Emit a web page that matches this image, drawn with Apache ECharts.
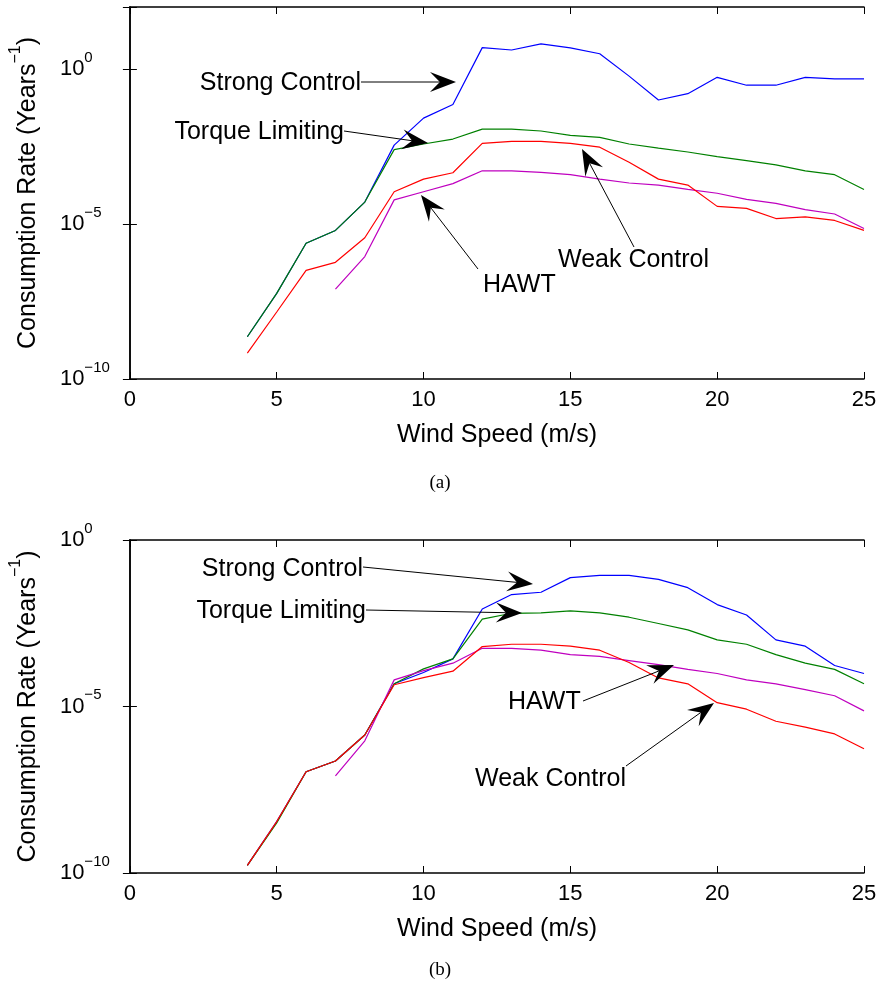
<!DOCTYPE html>
<html>
<head>
<meta charset="utf-8">
<script src="https://cdn.jsdelivr.net/npm/echarts@6/dist/echarts.min.js"></script>
<style>
  html, body { margin: 0; padding: 0; background: #fff; }
  #chart { width: 883px; height: 991px; }
</style>
</head>
<body>
<div id="chart"></div>
<script>
// Wind speeds (m/s) at which the consumption rate was evaluated
const windSpeed = [4, 5, 6, 7, 8, 9, 10, 11, 12, 13, 14, 15, 16, 17, 18, 19, 20, 21, 22, 23, 24, 25];

// Panel (a): consumption rate (1/years)
const strongA = [2.3e-9, 5.8e-8, 2.4e-6, 6.2e-6, 5.1e-5, 3.5e-3, 2.6e-2, 7.2e-2, 4.9, 4.1, 6.5, 4.8, 3.1, 0.59, 0.10, 0.16, 0.54, 0.30, 0.30, 0.54, 0.48, 0.48];
const torqueA = [2.3e-9, 5.8e-8, 2.4e-6, 6.2e-6, 5.1e-5, 2.5e-3, 3.8e-3, 5.5e-3, 1.15e-2, 1.15e-2, 1.0e-2, 7.2e-3, 6.2e-3, 3.8e-3, 2.8e-3, 2.1e-3, 1.5e-3, 1.1e-3, 8.1e-4, 5.2e-4, 3.9e-4, 1.3e-4];
const weakA   = [6.8e-10, 1.45e-8, 3.2e-7, 5.8e-7, 3.6e-6, 1.1e-4, 2.8e-4, 4.5e-4, 4.0e-3, 4.6e-3, 4.6e-3, 4.0e-3, 3.0e-3, 9.8e-4, 2.8e-4, 1.8e-4, 3.7e-5, 3.2e-5, 1.5e-5, 1.7e-5, 1.3e-5, 6.2e-6];
const hawtA   = [null, null, null, 7.9e-8, 8.9e-7, 6.0e-5, 1.1e-4, 2.0e-4, 5.2e-4, 5.2e-4, 4.6e-4, 3.9e-4, 2.8e-4, 2.1e-4, 1.8e-4, 1.3e-4, 9.8e-5, 6.2e-5, 4.6e-5, 2.9e-5, 2.1e-5, 7.2e-6];

// Panel (b): consumption rate (1/years)
const strongB = [1.7e-10, 3.5e-9, 1.1e-7, 2.3e-7, 1.4e-6, 4.8e-5, 1.05e-4, 2.7e-4, 8.5e-3, 2.3e-2, 2.7e-2, 7.4e-2, 8.7e-2, 8.7e-2, 6.6e-2, 3.7e-2, 1.15e-2, 5.6e-3, 1.0e-3, 6.5e-4, 1.7e-4, 9.8e-5];
const torqueB = [1.7e-10, 3.2e-9, 1.1e-7, 2.3e-7, 1.4e-6, 4.8e-5, 1.35e-4, 2.7e-4, 4.2e-3, 6.3e-3, 6.5e-3, 7.4e-3, 6.5e-3, 4.8e-3, 3.1e-3, 2.0e-3, 1.0e-3, 7.4e-4, 3.6e-4, 2.0e-4, 1.3e-4, 4.8e-5];
const weakB   = [1.7e-10, 3.5e-9, 1.1e-7, 2.3e-7, 1.4e-6, 4.5e-5, 7.4e-5, 1.15e-4, 6.3e-4, 7.4e-4, 7.4e-4, 6.5e-4, 4.9e-4, 2.1e-4, 7.2e-5, 4.8e-5, 1.3e-5, 8.3e-6, 3.6e-6, 2.4e-6, 1.5e-6, 5.4e-7];
const hawtB   = [null, null, null, 8.3e-8, 9.3e-7, 6.3e-5, 1.2e-4, 2.0e-4, 5.6e-4, 5.6e-4, 4.9e-4, 3.6e-4, 3.2e-4, 2.4e-4, 1.8e-4, 1.3e-4, 9.8e-5, 6.3e-5, 4.8e-5, 3.2e-5, 2.1e-5, 7.4e-6];

// Axis ranges and tick labels
const xTicks = [0, 5, 10, 15, 20, 25];
const yRangeA = [1e-10, 1e2];
const yRangeB = [1e-10, 1e0];
const yTickExponents = [-10, -5, 0];

const FONT = '"Liberation Sans", Arial, Helvetica, sans-serif';
const SERIF = '"Liberation Serif", "Times New Roman", serif';

const seriesStyle = [
  { name: 'Strong Control', color: '#0000ff' },
  { name: 'Torque Limiting', color: '#008000' },
  { name: 'HAWT', color: '#bf00bf' },
  { name: 'Weak Control', color: '#ff0000' }
];

function pairs(values) {
  return windSpeed.map((x, i) => [x, values[i] == null ? '-' : values[i]]);
}

function xAxisPair(gridIndex) {
  const base = {
    type: 'value', gridIndex, min: xTicks[0], max: xTicks[xTicks.length - 1], interval: 5,
    axisLine: { show: true, lineStyle: { color: '#000', width: 1.5 } },
    axisTick: { show: true, inside: true, length: 7, lineStyle: { color: '#000', width: 1 } },
    splitLine: { show: false }
  };
  return [
    Object.assign({}, base, {
      position: 'bottom',
      axisLabel: { color: '#000', fontFamily: FONT, fontSize: 22, margin: 10,
        formatter: v => xTicks.includes(v) ? String(v) : '' },
      name: 'Wind Speed (m/s)', nameLocation: 'middle', nameGap: 44,
      nameTextStyle: { color: '#000', fontFamily: FONT, fontSize: 25 }
    }),
    Object.assign({}, base, { position: 'top', axisLabel: { show: false } })
  ];
}

function expLabel(v) {
  const e = Math.round(Math.log10(v));
  if (!yTickExponents.includes(e)) return '';
  const s = e < 0 ? '\u2212' + (-e) : String(e);
  return '{b|10}{s|' + s + '}';
}

function yAxisPair(gridIndex, range) {
  const base = {
    type: 'log', logBase: 10, gridIndex, min: range[0], max: range[1], interval: 5,
    axisLine: { show: true, lineStyle: { color: '#000', width: 1.5 } },
    axisTick: { show: true, inside: true, length: 7, lineStyle: { color: '#000', width: 1 } },
    minorTick: { show: false },
    splitLine: { show: false }
  };
  return [
    Object.assign({}, base, {
      position: 'left',
      axisLabel: {
        align: 'left', margin: 70, formatter: expLabel,
        rich: {
          b: { fontFamily: FONT, fontSize: 22, color: '#000', lineHeight: 22, padding: [10, 0, 10, 0] },
          s: { fontFamily: FONT, fontSize: 15, color: '#000', lineHeight: 15, padding: [2, 0, 25, 0] }
        }
      },
      name: '{t|Consumption Rate (Years}{s|\u22121}{t|)}',
      nameLocation: 'middle', nameGap: 77,
      nameTextStyle: {
        rich: {
          t: { fontFamily: FONT, fontSize: 25, color: '#000', lineHeight: 25, padding: [8, 0, 8, 0] },
          s: { fontFamily: FONT, fontSize: 16, color: '#000', lineHeight: 16, padding: [0, 0, 25, 0] }
        }
      }
    }),
    Object.assign({}, base, { position: 'right', axisLabel: { show: false } })
  ];
}

function panelSeries(values, xIdx, yIdx) {
  return values.map((vals, i) => ({
    type: 'line', name: seriesStyle[i].name + (xIdx ? ' (b)' : ' (a)'),
    xAxisIndex: xIdx, yAxisIndex: yIdx,
    data: pairs(vals), showSymbol: false, symbol: 'none',
    lineStyle: { color: seriesStyle[i].color, width: 1.2 },
    connectNulls: false, animation: false, z: 2 + i
  }));
}

// Annotation callouts: text block plus an arrow whose head points at a curve
function arrowGraphics(x1, y1, x2, y2) {
  const L = 26, W = 10, notch = 0.62;
  const dx = x2 - x1, dy = y2 - y1, len = Math.hypot(dx, dy);
  const ux = dx / len, uy = dy / len, nx = -uy, ny = ux;
  const bx = x2 - ux * L, by = y2 - uy * L;
  const mx = x2 - ux * L * notch, my = y2 - uy * L * notch;
  return [
    { type: 'line', silent: true, z: 10,
      shape: { x1, y1, x2: mx, y2: my },
      style: { stroke: '#000', lineWidth: 1 } },
    { type: 'polygon', silent: true, z: 10,
      shape: { points: [[x2, y2], [bx + nx * W, by + ny * W], [mx, my], [bx - nx * W, by - ny * W]] },
      style: { fill: '#000' } }
  ];
}

function label(text, x, y, align) {
  return { type: 'text', silent: true, z: 10, x, y,
    style: { text, fill: '#000', font: '25px ' + FONT, align, verticalAlign: 'middle',
      textAlign: align, textVerticalAlign: 'middle' } };
}

const callouts = [
  // panel (a)
  label('Strong Control', 361, 83, 'right'), ...arrowGraphics(361, 82, 456, 82),
  label('Torque Limiting', 344, 132, 'right'), ...arrowGraphics(344, 131, 428, 143),
  label('HAWT', 483, 285, 'left'), ...arrowGraphics(478, 269, 421, 195),
  label('Weak Control', 558, 260, 'left'), ...arrowGraphics(634, 247, 582, 149),
  // panel (b)
  label('Strong Control', 363, 569, 'right'), ...arrowGraphics(363, 567, 533, 584),
  label('Torque Limiting', 366, 611, 'right'), ...arrowGraphics(366, 610, 522, 613),
  label('HAWT', 508, 702, 'left'), ...arrowGraphics(583, 701, 674, 665),
  label('Weak Control', 626, 779, 'right'), ...arrowGraphics(626, 766, 714, 703),
  // captions
  { type: 'text', silent: true, x: 440, y: 483,
    style: { text: '(a)', fill: '#000', font: '19px ' + SERIF, align: 'center', verticalAlign: 'middle',
      textAlign: 'center', textVerticalAlign: 'middle' } },
  { type: 'text', silent: true, x: 440, y: 970,
    style: { text: '(b)', fill: '#000', font: '19px ' + SERIF, align: 'center', verticalAlign: 'middle',
      textAlign: 'center', textVerticalAlign: 'middle' } }
];

const chart = echarts.init(document.getElementById('chart'), null, { renderer: 'canvas' });
chart.setOption({
  backgroundColor: '#fff',
  animation: false,
  grid: [
    { left: 127, top: 7, width: 737, height: 372 },
    { left: 127, top: 540, width: 737, height: 333 }
  ],
  xAxis: [...xAxisPair(0), ...xAxisPair(1)],
  yAxis: [...yAxisPair(0, yRangeA), ...yAxisPair(1, yRangeB)],
  series: [
    ...panelSeries([strongA, torqueA, hawtA, weakA], 0, 0),
    ...panelSeries([strongB, torqueB, hawtB, weakB], 2, 2)
  ],
  graphic: callouts
});
</script>
</body>
</html>
